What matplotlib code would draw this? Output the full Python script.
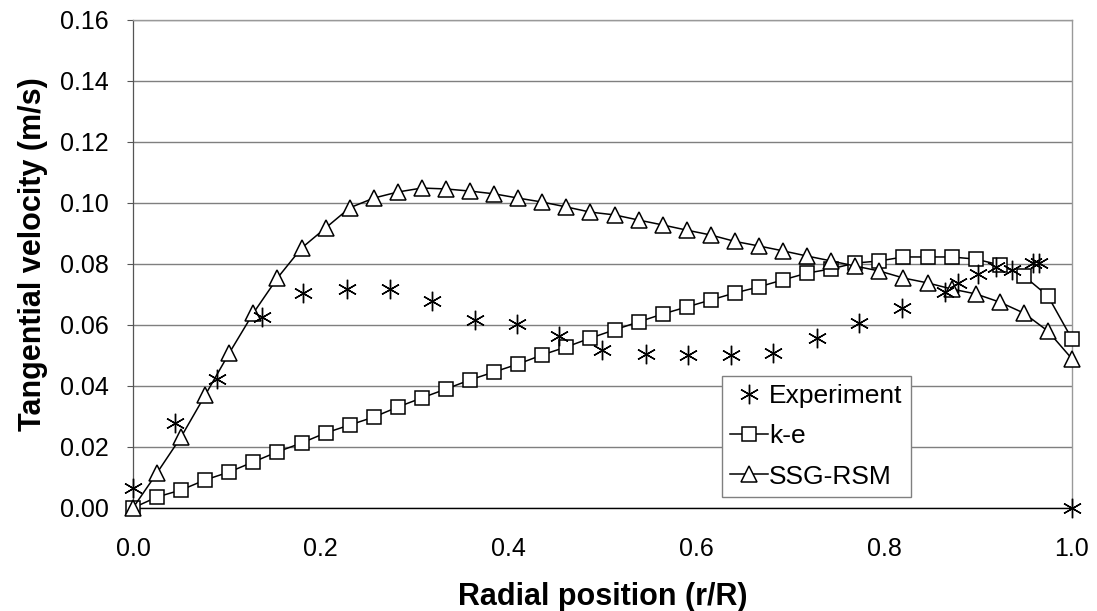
import matplotlib
matplotlib.use("Agg")
import matplotlib.pyplot as plt
import numpy as np

plt.rcParams["font.family"] = ["Liberation Sans", "DejaVu Sans"]

# 40 evenly spaced model stations from axis to wall
r_model = np.linspace(0.0, 1.0, 40)

ke = [
    0.0, 0.0036, 0.0059, 0.0092, 0.0118, 0.0151, 0.0184, 0.0213, 0.0246, 0.0272,
    0.0298, 0.0331, 0.0361, 0.0390, 0.0420, 0.0446, 0.0472, 0.0502, 0.0528, 0.0557,
    0.0584, 0.0610, 0.0636, 0.0659, 0.0682, 0.0705, 0.0725, 0.0748, 0.0770, 0.0784,
    0.0803, 0.0810, 0.0823, 0.0823, 0.0823, 0.0816, 0.0797, 0.0761, 0.0695, 0.0554,
]

ssg_rsm = [
    0.0, 0.0115, 0.0233, 0.0370, 0.0508, 0.0639, 0.0754, 0.0852, 0.0918, 0.0984,
    0.1016, 0.1036, 0.1049, 0.1046, 0.1039, 0.1030, 0.1016, 0.1003, 0.0987, 0.0970,
    0.0961, 0.0944, 0.0928, 0.0911, 0.0895, 0.0874, 0.0859, 0.0843, 0.0826, 0.0810,
    0.0793, 0.0777, 0.0754, 0.0738, 0.0718, 0.0702, 0.0675, 0.0639, 0.0580, 0.0489,
]

r_exp = [
    0.0, 0.045, 0.089, 0.137, 0.181, 0.228, 0.274, 0.318, 0.364, 0.409,
    0.454, 0.500, 0.546, 0.591, 0.637, 0.682, 0.728, 0.773, 0.819, 0.865,
    0.879, 0.900, 0.919, 0.936, 0.958, 0.965, 1.0,
]
v_exp = [
    0.0066, 0.0279, 0.0423, 0.0626, 0.0705, 0.0718, 0.0718, 0.0679, 0.0616, 0.0603,
    0.0564, 0.0518, 0.0505, 0.0502, 0.0503, 0.0508, 0.0557, 0.0605, 0.0656, 0.0708,
    0.0738, 0.0768, 0.0790, 0.0780, 0.0803, 0.0803, 0.0,
]

fig = plt.figure(figsize=(10.97, 6.11), dpi=100)
ax = fig.add_axes([0.1212, 0.1686, 0.856, 0.7987])

ax.plot(r_exp, v_exp, linestyle="none", marker=(6, 2, 0), markersize=14,
        markeredgewidth=1.0, color="black", label="Experiment", clip_on=False, zorder=4)
ax.plot(r_model, ke, color="black", linewidth=1.1, marker="s", markersize=10,
        markerfacecolor="white", markeredgecolor="black", markeredgewidth=1.1,
        label="k-e", clip_on=False, zorder=3)
ax.plot(r_model, ssg_rsm, color="black", linewidth=1.1, marker="^", markersize=12,
        markerfacecolor="white", markeredgecolor="black", markeredgewidth=1.1,
        label="SSG-RSM", clip_on=False, zorder=3)

ax.set_xlim(0, 1.0)
ax.set_ylim(0, 0.16)
ax.set_xticks(np.arange(0, 1.01, 0.2))
ax.set_yticks(np.arange(0, 0.161, 0.02))
ax.xaxis.set_major_formatter(matplotlib.ticker.FormatStrFormatter("%.1f"))
ax.yaxis.set_major_formatter(matplotlib.ticker.FormatStrFormatter("%.2f"))
ax.tick_params(axis="x", length=0, pad=21, labelsize=18)
ax.tick_params(axis="y", length=4.3, width=0.8, color="#555555", pad=13, labelsize=18)

ax.grid(axis="y", color="#7f7f7f", linewidth=1.0)
ax.set_axisbelow(True)
for side in ("top", "right"):
    ax.spines[side].set_color("#999999")
    ax.spines[side].set_linewidth(1.0)
ax.spines["left"].set_color("#555555")
ax.spines["left"].set_linewidth(0.9)
ax.spines["bottom"].set_color("black")
ax.spines["bottom"].set_linewidth(1.0)

ax.set_xlabel("Radial position (r/R)", fontsize=22, fontweight="bold")
ax.set_ylabel("Tangential velocity (m/s)", fontsize=22, fontweight="bold")
ax.xaxis.set_label_coords(0.5, -0.152)
ax.yaxis.set_label_coords(-0.09, 0.52)

leg = ax.legend(loc="upper left", bbox_to_anchor=(0.627, 0.2705), fontsize=19,
                frameon=True, fancybox=False, edgecolor="#808080", framealpha=1,
                handlelength=1.45, handletextpad=0.05, borderpad=0.3,
                labelspacing=0.62, borderaxespad=0)
leg.get_frame().set_linewidth(1.0)

fig.savefig("out.png", dpi=100)
